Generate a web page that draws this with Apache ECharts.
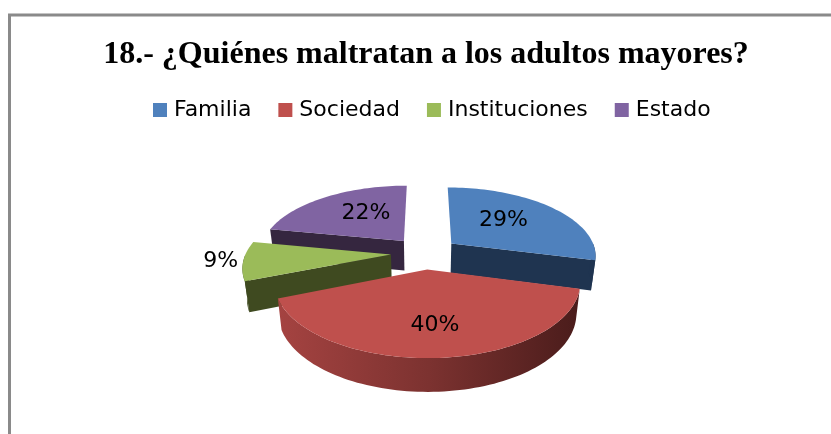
<!DOCTYPE html>
<html>
<head>
<meta charset="utf-8">
<style>html,body{margin:0;padding:0;background:#fff}#c{width:831px;height:434px}</style>
<script src="https://cdn.jsdelivr.net/npm/echarts@6/dist/echarts.min.js"></script>
</head>
<body>
<div id="c"></div>
<script>
var titleText = '18.- ¿Quiénes maltratan a los adultos mayores?';
var categories = ['Familia', 'Sociedad', 'Instituciones', 'Estado'];
var values = [29, 40, 9, 22];

var topColors = ['#4F81BD', '#BF504D', '#9BBB59', '#8064A2'];
var sideColors = ['#1F3450', '#7A302E', '#3F4A20', '#35263F'];
var wallColors = ['#1F3450', null, '#3F4A20', '#35263F'];
var drawOrder = [3, 0, 2, 1];
var labelRadius = [0.47, 0.52, 1.17, 0.42];
var labelNudge = [[3, -5], [2, 14], [3, -1], [-3, -8]];
var view = {cx: 425, cy: 253, rx: 145, ry: 68, k: 0.163, explode: 0.235, depth: 30, shrink: 0.975};

var total = values.reduce(function (a, b) { return a + b; }, 0);
var starts = [];
values.reduce(function (acc, v, i) { starts[i] = acc; return acc + v; }, 0);

function project(wx, wy) {
  var s = 1 / (1 - view.k * wy);
  return {x: view.cx + view.rx * s * wx, y: view.cy + view.ry * s * wy, s: s};
}
function point(idx, frac, ang) {
  var a0 = (starts[idx] + values[idx] / 2) / total * 2 * Math.PI;
  var ox = view.explode * Math.sin(a0), oy = -view.explode * Math.cos(a0);
  return project(ox + frac * Math.sin(ang), oy - frac * Math.cos(ang));
}
function low(p) {
  return [view.cx + (p.x - view.cx) * view.shrink, p.y + view.depth * (1 + (p.s - 1) * 0.5)];
}
function arcPts(idx, a, b) {
  var n = Math.max(2, Math.ceil((b - a) / 0.03)), pts = [];
  for (var i = 0; i <= n; i++) pts.push(point(idx, 1, a + (b - a) * i / n));
  return pts;
}
function poly(points, fill) {
  return {type: 'polygon', silent: true, shape: {points: points}, style: {fill: fill}};
}
function renderSlice(idx) {
  return function (params, api) {
    var v = api.value(0);
    var a = starts[idx] / total * 2 * Math.PI;
    var b = a + v / total * 2 * Math.PI;
    var children = [];
    var apex = point(idx, 0, 0);
    function radial(t) {
      var e = point(idx, 1, t);
      children.push(poly([[apex.x, apex.y], [e.x, e.y], low(e), low(apex)], sideColors[idx]));
    }
    if (Math.sin(a) < -0.01) radial(a);
    if (Math.sin(b) > 0.01) radial(b);
    var wa = Math.max(a, Math.PI / 2), wb = Math.min(b, 1.5 * Math.PI);
    if (wb > wa) {
      var arc = arcPts(idx, wa, wb);
      var wall = arc.map(function (p) { return [p.x, p.y]; })
        .concat(arc.slice().reverse().map(low));
      var fill = wallColors[idx] || new echarts.graphic.LinearGradient(0, 0, 1, 0, [
        {offset: 0, color: '#A54341'},
        {offset: 0.5, color: '#7C3230'},
        {offset: 1, color: '#4A1C1B'}
      ]);
      children.push(poly(wall, fill));
    }
    var rim = arcPts(idx, a, b).map(function (p) { return [p.x, p.y]; });
    rim.push([apex.x, apex.y]);
    children.push(poly(rim, topColors[idx]));
    var mid = (a + b) / 2;
    var lp = point(idx, labelRadius[idx], mid);
    children.push({
      type: 'text', silent: true,
      style: {
        x: lp.x + labelNudge[idx][0], y: lp.y + labelNudge[idx][1],
        text: Math.round(v / total * 100) + '%',
        fill: '#000', font: '22px "DejaVu Sans"', align: 'center', verticalAlign: 'middle'
      }
    });
    return {type: 'group', children: children};
  };
}

var chart = echarts.init(document.getElementById('c'), null, {renderer: 'canvas'});
chart.setOption({
  animation: false,
  backgroundColor: '#fff',
  title: {
    text: titleText, left: 421, top: 34, textAlign: 'center',
    textStyle: {fontFamily: 'Liberation Serif', fontWeight: 'bold', fontSize: 32, color: '#000'}
  },
  legend: {
    data: categories, left: 148, top: 94, icon: 'rect',
    itemWidth: 14, itemHeight: 14, itemGap: 27, selectedMode: false,
    textStyle: {fontFamily: 'DejaVu Sans', fontSize: 22, color: '#000', padding: [0, 0, 0, 2]}
  },
  graphic: [
    {type: 'polyline', silent: true, shape: {points: [[9.5, 434], [9.5, 15], [831, 15]]},
     style: {stroke: '#8A8A8A', lineWidth: 3, fill: null}}
  ],
  series: drawOrder.map(function (idx) {
    return {
      type: 'custom', name: categories[idx], coordinateSystem: 'none', clip: false,
      itemStyle: {color: topColors[idx]},
      renderItem: renderSlice(idx),
      data: [[values[idx]]]
    };
  })
});
</script>
</body>
</html>
